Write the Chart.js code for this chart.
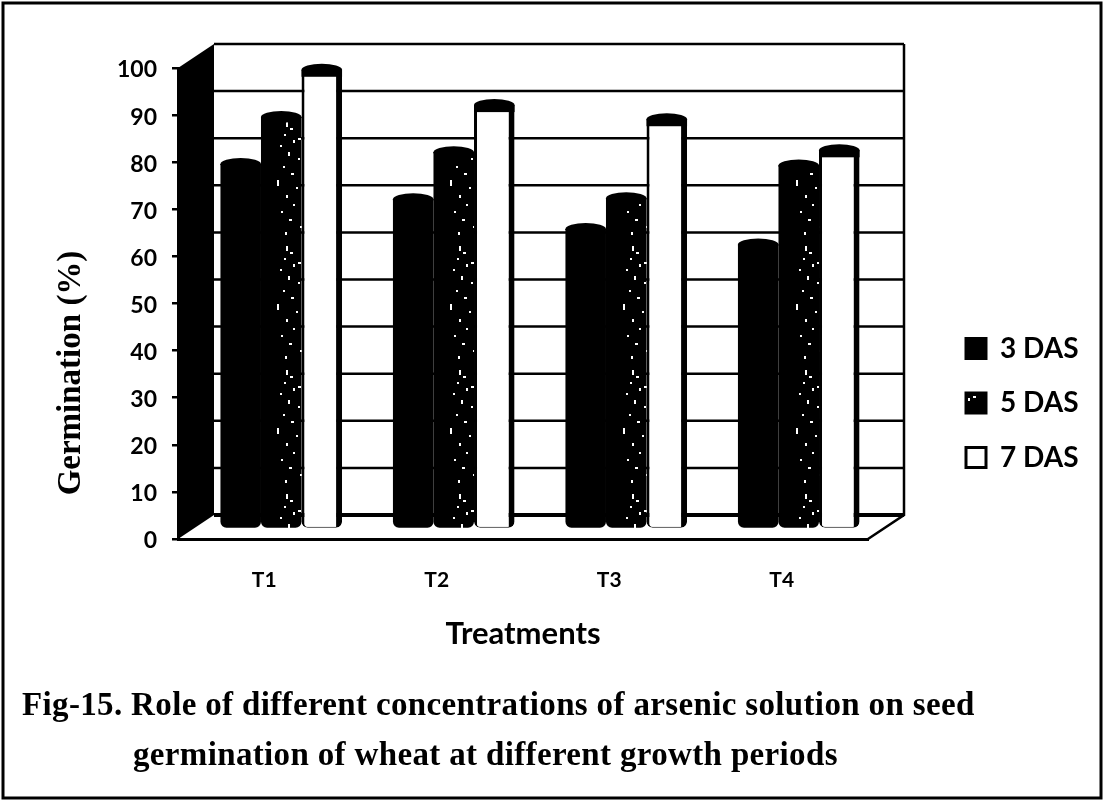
<!DOCTYPE html>
<html>
<head>
<meta charset="utf-8">
<style>html,body{margin:0;padding:0;background:#fff}canvas{display:block}</style>
<script src="https://cdn.jsdelivr.net/npm/chart.js@4/dist/chart.umd.min.js"></script>
</head>
<body>
<canvas id="c" width="1106" height="804"></canvas>
<script>
const categories = ["T1", "T2", "T3", "T4"];
const das3 = [77.5, 70, 63.7, 60.4];
const das5 = [87.5, 80, 70.2, 77.2];
const das7 = [97.5, 90, 87, 80.4];
const seriesNames = ["3 DAS", "5 DAS", "7 DAS"];
const yTicks = [0,10,20,30,40,50,60,70,80,90,100];
const xTitle = "Treatments";
const yTitle = "Germination (%)";
const captionLines = ["Fig-15. Role of different concentrations of arsenic solution on seed",
                      "germination of wheat at different growth periods"];

// speckle texture for the 5 DAS fill
const specks = [[96,8,2,5],[100,14,3,2],[94,20,2,2],[103,26,2,3],[108,24,3,2],[90,31,2,2],[98,38,2,4],[108,44,2,2],
                [93,52,2,2],[101,59,3,2],[87,66,2,6],[106,73,2,2],[96,81,2,3],[103,90,2,2],[91,97,2,2],
                [99,105,3,2],[110,112,2,2],[95,118,2,3]];
function speckPattern(){
  const t = document.createElement('canvas'); t.width = 173; t.height = 124;
  const g = t.getContext('2d');
  g.fillStyle = '#000'; g.fillRect(0,0,173,124);
  g.fillStyle = '#fff';
  specks.forEach(s => g.fillRect(s[0],s[1],s[2],s[3]));
  return g.createPattern(t,'repeat');
}
const pat = speckPattern();
const DX = 17, DY = -10, WX = 36, WY = -24;
const sans = 'Lato', serif = '"Liberation Serif"';

const scene = {
  id: 'scene',
  afterLayout(chart){
    const L = chart.legend;
    const w = L.width, h = L.height;
    L.left = 939.5; L.right = 939.5 + w; L.top = 308; L.bottom = 308 + h;
  },
  beforeDraw(chart){
    const c = chart.ctx;
    c.save();
    c.fillStyle = '#fff'; c.fillRect(0,0,1106,804);
    c.strokeStyle = '#000'; c.lineWidth = 3;
    c.strokeRect(3,3,1098,795);
    c.restore();
  },
  beforeDatasetsDraw(chart){
    const c = chart.ctx, y = chart.scales.y, a = chart.chartArea;
    const y0 = y.getPixelForValue(0), y100 = y.getPixelForValue(100);
    c.save();
    c.strokeStyle = '#000';
    yTicks.forEach(v => {
      const p = y.getPixelForValue(v) + WY;
      c.lineWidth = v === 0 ? 4 : 2.5;
      c.beginPath(); c.moveTo(a.left+WX, p); c.lineTo(a.right+WX, p); c.stroke();
    });
    c.lineWidth = 2.5;
    c.beginPath(); c.moveTo(a.right+WX, y100+WY); c.lineTo(a.right+WX, y0+WY); c.lineTo(a.right, y0); c.stroke();
    c.fillStyle = '#000';
    c.beginPath();
    c.moveTo(a.left,y100); c.lineTo(a.left+WX,y100+WY); c.lineTo(a.left+WX,y0+WY); c.lineTo(a.left,y0);
    c.closePath(); c.fill();
    c.restore();
    c.save();
    c.translate(DX, DY);
  },
  afterDatasetsDraw(chart){
    const c = chart.ctx;
    chart.data.datasets.forEach((d,i) => {
      chart.getDatasetMeta(i).data.forEach(b => {
        c.fillStyle = '#000';
        c.beginPath();
        c.ellipse(b.x, b.y, b.width/2, 6, 0, 0, Math.PI*2);
        c.fill();
        c.fillRect(b.x-b.width/2, b.y, b.width, i===2 ? 7 : 1);
      });
    });
    c.restore();
  },
  afterDraw(chart){
    const c = chart.ctx;
    c.save();
    c.fillStyle = '#000';
    c.textBaseline = 'alphabetic';
    c.font = 'bold 33px ' + serif;
    c.letterSpacing = '0.35px';
    c.textAlign = 'left';
    c.fillText(captionLines[0], 22, 715);
    c.fillText(captionLines[1], 133, 765);
    c.letterSpacing = '0px';
    c.translate(80, 373);
    c.rotate(-Math.PI/2);
    c.textAlign = 'center';
    c.font = 'bold 33px ' + serif;
    c.fillText(yTitle, 0, 0);
    c.restore();
  }
};

const barOpts = {
  barPercentage: 1, categoryPercentage: 0.705, borderSkipped: false,
  borderColor: '#000',
  borderRadius: {topLeft:0, topRight:0, bottomLeft:6, bottomRight:6}
};
new Chart(document.getElementById('c'), {
  type: 'bar',
  data: {
    labels: categories,
    datasets: [
      {label: seriesNames[0], data: das3, backgroundColor:'#000', borderWidth:0, ...barOpts},
      {label: seriesNames[1], data: das5, backgroundColor:pat, borderWidth:0, ...barOpts},
      {label: seriesNames[2], data: das7, backgroundColor:'#fff',
       borderWidth:{left:3,right:6,top:0,bottom:1}, ...barOpts}
    ]
  },
  plugins: [scene],
  options: {
    responsive: false,
    animation: false,
    devicePixelRatio: 1,
    layout: {padding: {left: 58, right: 238, top: 68, bottom: 151}},
    scales: {
      x: {
        afterFit(s){ s.height = 114; },
        grid: {display:false},
        border: {display:true, color:'#000', width:3},
        ticks: {color:'#000', padding:21, maxRotation:0, font:{family:sans, weight:'bold', size:21}},
        title: {display:true, text:xTitle, color:'#000', padding:{top:0,bottom:0},
                font:{family:sans, weight:'bold', size:31}}
      },
      y: {
        min: 0, max: 100,
        afterFit(s){ s.width = 120; },
        afterBuildTicks(s){ s.ticks = yTicks.map(v => ({value:v})); },
        grid: {drawOnChartArea:false, drawTicks:true, tickLength:6, color:'#000', lineWidth:2.5},
        border: {display:true, color:'#000', width:3},
        ticks: {color:'#000', padding:15, labelOffset:2, font:{family:sans, weight:'bold', size:23}}
      }
    },
    plugins: {
      title: {display:false},
      tooltip: {enabled:false},
      legend: {
        position:'chartArea', align:'start',
        labels: {color:'#000', boxWidth:20, boxHeight:20, padding:26.5,
                 font:{family:sans, weight:'bold', size:28},
                 generateLabels(chart){
                   return Chart.defaults.plugins.legend.labels.generateLabels(chart)
                     .map(l => Object.assign(l, {lineWidth:3, strokeStyle:'#000'}));
                 }}
      }
    }
  }
});
</script>
</body>
</html>
